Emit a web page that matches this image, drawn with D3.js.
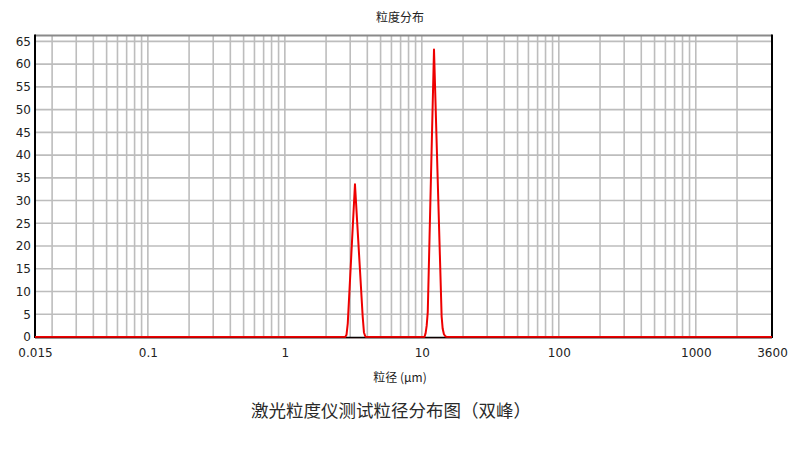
<!DOCTYPE html>
<html><head><meta charset="utf-8">
<script src="https://cdn.jsdelivr.net/npm/d3@7"></script>
<style>body{margin:0;background:#fff}svg{display:block}</style>
</head><body>
<svg id="c" width="800" height="450"></svg>
<script>
// Data (particle size in µm, volume %)
const sizes   = [0.015, 2.76, 2.82, 2.88, 3.25, 3.70, 3.78, 3.86, 3.92, 10.45, 10.65, 10.85, 11.05, 12.27, 13.95, 14.2, 14.5, 14.9, 15.3, 3600];
const volumes = [0,     0,    0.5,  3.0,  33.6, 4.5,  1.0,  0.2,  0,    0,     0.8,   2.5,   5.5,   63.2,  4.5,   1.8,  0.6,  0.1,  0,    0];
const xTickValues = [0.015, 0.1, 1, 10, 100, 1000, 3600];
const xTickLabels = ["0.015", "0.1", "1", "10", "100", "1000", "3600"];
const yTickValues = [0,5,10,15,20,25,30,35,40,45,50,55,60,65];
const xGridValues = [];
[0.01,0.1,1,10,100,1000].forEach(d => { for (let m = 1; m <= 9; m++) { const v = m*d; if (v > 0.015 && v <= 2000) xGridValues.push(v); } });
const title = "粒度分布";
const xLabel = "粒径 (μm)";
const caption = "激光粒度仪测试粒径分布图（双峰）";

const svg = d3.select("#c");
const L = 35, R = 772, T = 35.5, B = 337;
const x = d3.scaleLog().domain([0.015, 3600]).range([L, R]);
const y = d3.scaleLinear().domain([0, 66.3]).range([B, T]);

// grid
svg.append("g").selectAll("line").data(xGridValues).join("line")
  .attr("x1", d => x(d)).attr("x2", d => x(d)).attr("y1", T).attr("y2", B)
  .attr("stroke", "#bdbdbd").attr("stroke-width", 1.6);
svg.append("g").selectAll("line").data(yTickValues.filter(d => d > 0)).join("line")
  .attr("x1", L).attr("x2", R).attr("y1", d => y(d)).attr("y2", d => y(d))
  .attr("stroke", "#bdbdbd").attr("stroke-width", 1.6);

// frame
svg.append("line").attr("x1", L).attr("x2", R).attr("y1", T).attr("y2", T).attr("stroke", "#8a8a8a").attr("stroke-width", 2);
svg.append("line").attr("x1", R).attr("x2", R).attr("y1", T - 1).attr("y2", B + 1).attr("stroke", "#000").attr("stroke-width", 2);
svg.append("line").attr("x1", L).attr("x2", L).attr("y1", T - 1).attr("y2", B + 1).attr("stroke", "#000").attr("stroke-width", 2);
svg.append("line").attr("x1", L).attr("x2", R).attr("y1", B + 0.5).attr("y2", B + 0.5).attr("stroke", "#000").attr("stroke-width", 1.5);

// axes labels
const fontLat = "'DejaVu Sans', Verdana, sans-serif";
const gy = svg.append("g").attr("transform", `translate(${L},0)`)
  .call(d3.axisLeft(y).tickValues(yTickValues).tickSize(0).tickPadding(4));
gy.select(".domain").remove();
gy.selectAll("text").attr("font-family", fontLat).attr("font-size", 12).attr("fill", "#222");

const gx = svg.append("g").attr("transform", `translate(0,${B})`)
  .call(d3.axisBottom(x).tickValues(xTickValues).tickFormat((d, i) => xTickLabels[i]).tickSize(0).tickPadding(11));
gx.select(".domain").remove();
gx.selectAll("text").attr("font-family", fontLat).attr("font-size", 12).attr("fill", "#222");

// curve
const pts = sizes.map((s, i) => [s, volumes[i]]);
svg.append("path").datum(pts)
  .attr("d", d3.line().x(d => x(d[0])).y(d => y(d[1])))
  .attr("fill", "none").attr("stroke", "#ee0000").attr("stroke-width", 2).attr("stroke-linejoin", "round");
svg.append("line").attr("x1", L).attr("x2", R).attr("y1", B + 1).attr("y2", B + 1).attr("stroke", "#300").attr("stroke-width", 0.8).attr("opacity", 0.6);

// texts
const fontCJK = "'Noto Sans CJK SC', sans-serif";
svg.append("text").attr("x", 400).attr("y", 22).attr("text-anchor", "middle")
  .attr("font-family", fontCJK).attr("font-size", 12).attr("fill", "#222").text(title);
svg.append("text").attr("x", 400).attr("y", 382).attr("text-anchor", "middle")
  .attr("font-family", fontCJK).attr("font-size", 12).attr("fill", "#222").text(xLabel);
svg.append("text").attr("x", 391).attr("y", 417).attr("text-anchor", "middle")
  .attr("font-family", fontCJK).attr("font-size", 17.5).attr("fill", "#2a2a2a").text(caption);
</script>
</body></html>
